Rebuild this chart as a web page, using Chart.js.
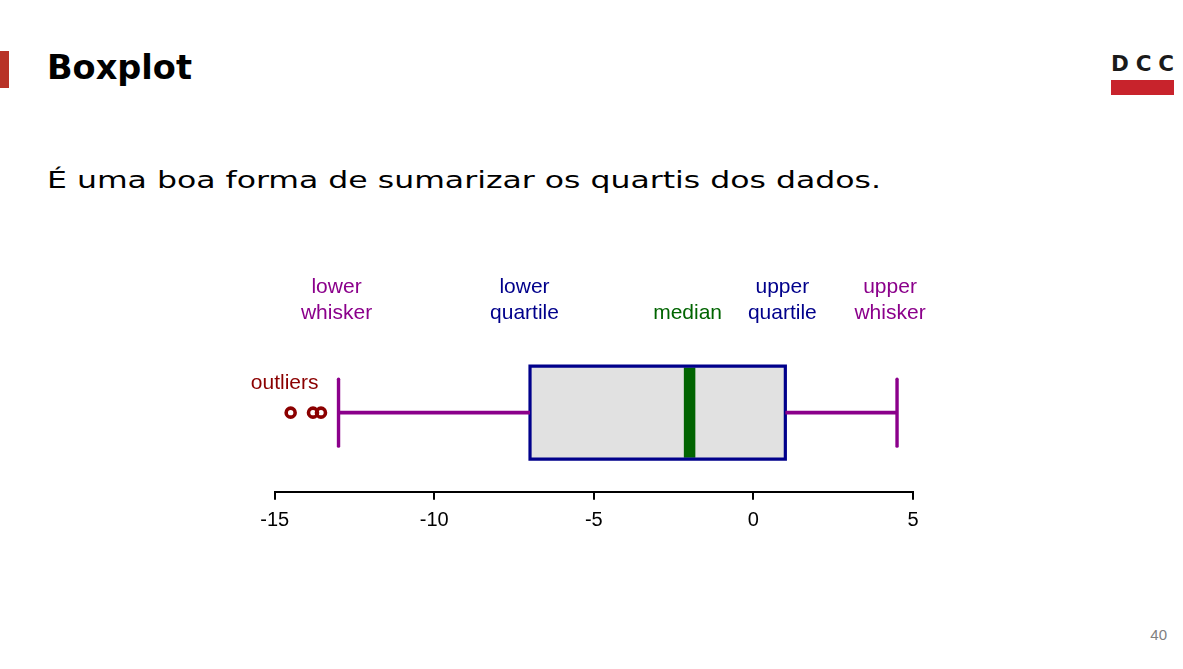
<!DOCTYPE html>
<html>
<head>
<meta charset="utf-8">
<script src="https://cdn.jsdelivr.net/npm/chart.js@4.4.1/dist/chart.umd.min.js"></script>
<style>
  html, body { margin: 0; padding: 0; background: #ffffff; }
  #stage { position: relative; width: 1183px; height: 669px; overflow: hidden; background: #fff; }
  #deco { position: absolute; left: 0; top: 0; }
  #chart { position: absolute; left: 0; top: 0; }
</style>
</head>
<body>
<div id="stage">
  <svg id="deco" width="1183" height="669" xmlns="http://www.w3.org/2000/svg">
    <rect x="0" y="51" width="9" height="37" fill="#b83227"/>
    <text x="47" y="79.3" font-family="'DejaVu Sans', sans-serif" font-weight="bold" font-size="33" fill="#000" textLength="145" lengthAdjust="spacingAndGlyphs">Boxplot</text>
    <text x="47" y="187.7" font-family="'DejaVu Sans', sans-serif" font-size="23.5" fill="#000" textLength="834" lengthAdjust="spacingAndGlyphs">É uma boa forma de sumarizar os quartis dos dados.</text>
    <text x="1111" y="70.5" font-family="'DejaVu Sans', sans-serif" font-weight="bold" font-size="21.5" fill="#1a1a1a" textLength="63" lengthAdjust="spacing">DCC</text>
    <rect x="1111" y="80" width="63" height="15" fill="#c8232c"/>
    <text x="1167" y="640" text-anchor="end" font-family="'Liberation Sans', Arial, sans-serif" font-size="15" fill="#7f7f7f">40</text>
  </svg>
  <canvas id="chart" width="1183" height="669"></canvas>
</div>
<script>
// ---- data ----
const lowerWhisker = -13;
const lowerQuartile = -7;
const medianValue = -2;
const upperQuartile = 1;
const upperWhisker = 4.5;
const outliers = [-14.5, -13.8, -13.55];
const tickValues = [-15, -10, -5, 0, 5];
const annotationTexts = [['lower', 'whisker'], ['lower', 'quartile'], ['median'], ['upper', 'quartile'], ['upper', 'whisker']];
const annotationValues = [lowerWhisker, lowerQuartile, medianValue, upperQuartile, upperWhisker];
const outlierLabel = 'outliers';

// ---- layout / style (not data) ----
const BOX_HALF = 0.5;
const CAP_HALF = 0.36;
const MEDIAN_HALF = 0.485;
const annotationStyle = {
  colors: ['#8B008B', '#00008B', '#006400', '#00008B', '#8B008B'],
  dx: [-2, -5.5, -2, -3, -7],
  line1: -119.5,
  line2: -93.5,
  outlierDx: -6,
  outlierDy: -23.7,
  outlierColor: '#8B0000',
  font: "21px 'Liberation Sans', Arial, sans-serif"
};

const whiskerColor = '#8B008B';
const boxColor = '#00008B';

function seg(x1, y1, x2, y2) { return [{x: x1, y: y1}, {x: x2, y: y2}]; }

const lineBase = { showLine: true, pointRadius: 0, pointHoverRadius: 0, fill: false, tension: 0 };

const datasets = [
  Object.assign({}, lineBase, {
    label: 'box fill',
    data: seg(lowerQuartile, BOX_HALF, upperQuartile, BOX_HALF),
    fill: { value: -BOX_HALF },
    backgroundColor: '#e1e1e1',
    borderWidth: 0,
    borderColor: 'rgba(0,0,0,0)',
    order: 10
  }),
  Object.assign({}, lineBase, {
    label: 'median',
    data: seg(medianValue, -MEDIAN_HALF, medianValue, MEDIAN_HALF),
    borderColor: '#006400',
    borderWidth: 11.5,
    borderCapStyle: 'butt',
    order: 9
  }),
  Object.assign({}, lineBase, {
    label: 'box',
    data: [
      {x: lowerQuartile, y: -BOX_HALF}, {x: upperQuartile, y: -BOX_HALF},
      {x: upperQuartile, y: BOX_HALF}, {x: lowerQuartile, y: BOX_HALF},
      {x: lowerQuartile, y: -BOX_HALF}
    ],
    borderColor: boxColor,
    borderWidth: 3.2,
    borderCapStyle: 'square',
    borderJoinStyle: 'miter',
    order: 8
  }),
  Object.assign({}, lineBase, {
    label: 'lower whisker',
    data: seg(lowerWhisker, 0, lowerQuartile, 0),
    borderColor: whiskerColor, borderWidth: 3.8, borderCapStyle: 'butt', order: 7
  }),
  Object.assign({}, lineBase, {
    label: 'upper whisker',
    data: seg(upperQuartile, 0, upperWhisker, 0),
    borderColor: whiskerColor, borderWidth: 3.8, borderCapStyle: 'butt', order: 7
  }),
  Object.assign({}, lineBase, {
    label: 'lower cap',
    data: seg(lowerWhisker, -CAP_HALF, lowerWhisker, CAP_HALF),
    borderColor: whiskerColor, borderWidth: 3.4, borderCapStyle: 'round', order: 6
  }),
  Object.assign({}, lineBase, {
    label: 'upper cap',
    data: seg(upperWhisker, -CAP_HALF, upperWhisker, CAP_HALF),
    borderColor: whiskerColor, borderWidth: 3.4, borderCapStyle: 'round', order: 6
  }),
  {
    label: 'outliers',
    data: outliers.map(v => ({x: v, y: 0})),
    showLine: false,
    pointRadius: 4.5,
    pointHoverRadius: 4.5,
    pointBorderWidth: 3.6,
    pointBorderColor: '#8B0000',
    pointBackgroundColor: 'rgba(0,0,0,0)',
    borderColor: '#8B0000',
    backgroundColor: 'rgba(0,0,0,0)',
    order: 1
  }
];

const annotationPlugin = {
  id: 'boxAnnotations',
  afterDatasetsDraw(chart) {
    const ctx = chart.ctx;
    const xs = chart.scales.x, ys = chart.scales.y;
    const yc = ys.getPixelForValue(0);
    ctx.save();
    ctx.font = annotationStyle.font;
    ctx.textAlign = 'center';
    ctx.textBaseline = 'alphabetic';
    annotationTexts.forEach((lines, i) => {
      const x = xs.getPixelForValue(annotationValues[i]) + annotationStyle.dx[i];
      ctx.fillStyle = annotationStyle.colors[i];
      if (lines.length === 2) {
        ctx.fillText(lines[0], x, yc + annotationStyle.line1);
        ctx.fillText(lines[1], x, yc + annotationStyle.line2);
      } else {
        ctx.fillText(lines[0], x, yc + annotationStyle.line2);
      }
    });
    ctx.fillStyle = annotationStyle.outlierColor;
    ctx.fillText(outlierLabel, xs.getPixelForValue(outliers[0]) + annotationStyle.outlierDx, yc + annotationStyle.outlierDy);
    ctx.restore();
  }
};

new Chart(document.getElementById('chart'), {
  type: 'line',
  data: { datasets },
  options: {
    responsive: false,
    animation: false,
    events: [],
    layout: { padding: { left: 274.7, right: 270, top: 333.6, bottom: 128.7 } },
    plugins: { legend: { display: false }, tooltip: { enabled: false } },
    scales: {
      x: {
        type: 'linear',
        min: tickValues[0],
        max: tickValues[tickValues.length - 1],
        afterBuildTicks: (scale) => { scale.ticks = tickValues.map(v => ({ value: v })); },
        grid: { drawOnChartArea: false, drawTicks: true, tickLength: 8, color: '#000', lineWidth: 2 },
        border: { display: true, color: '#000', width: 2 },
        ticks: {
          color: '#000',
          padding: 8.3,
          maxRotation: 0,
          autoSkip: false,
          font: { family: "'Liberation Sans', Arial, sans-serif", size: 20 },
          callback: (v) => String(v)
        }
      },
      y: {
        type: 'linear',
        display: false,
        min: -0.85,
        max: 0.85
      }
    }
  },
  plugins: [annotationPlugin]
});
</script>
</body>
</html>
